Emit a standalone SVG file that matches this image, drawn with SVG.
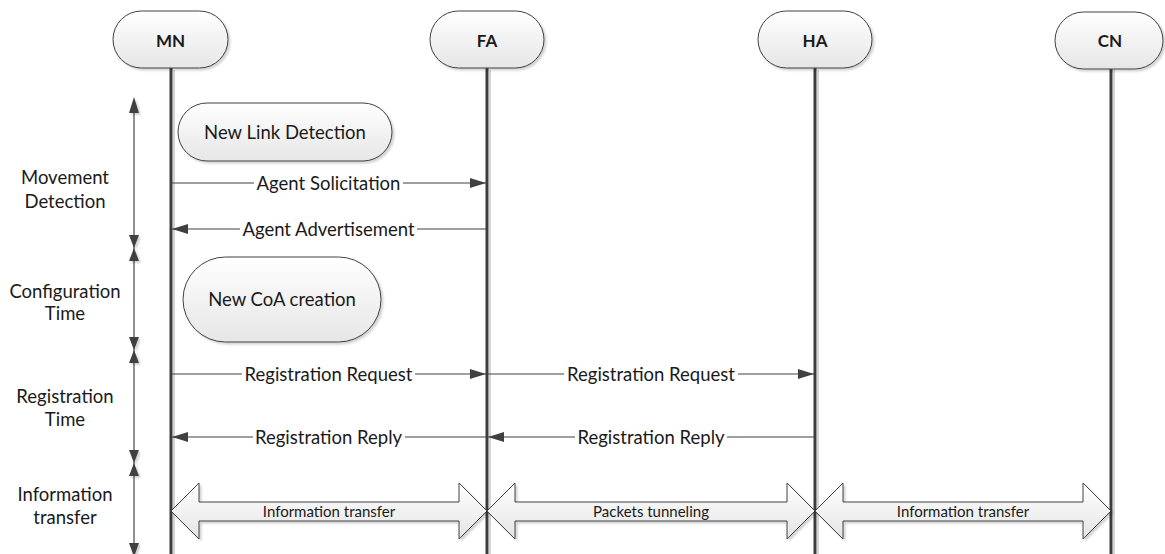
<svg xmlns="http://www.w3.org/2000/svg" width="1165" height="554" viewBox="0 0 1165 554">
  <defs>
    <linearGradient id="pillFill" x1="0" y1="0" x2="0" y2="1">
      <stop offset="0" stop-color="#ffffff"/>
      <stop offset="1" stop-color="#e6e6e6"/>
    </linearGradient>
    <linearGradient id="bandFill" x1="0" y1="0" x2="0" y2="1">
      <stop offset="0" stop-color="#ffffff"/>
      <stop offset="1" stop-color="#e4e4e4"/>
    </linearGradient>
    <filter id="shadow" x="-10%" y="-10%" width="130%" height="130%">
      <feDropShadow dx="2" dy="2" stdDeviation="1" flood-color="#000" flood-opacity="0.18"/>
    </filter>
    <marker id="arrow" viewBox="0 0 16 10" refX="16" refY="5" markerWidth="16" markerHeight="10" markerUnits="userSpaceOnUse" orient="auto">
      <path d="M0,0 L16,5 L0,10 Z" fill="#404040"/>
    </marker>
  </defs>
  <style>
    .pill { fill: url(#pillFill); stroke: #404040; stroke-width: 1; filter: url(#shadow); }
    .head { font-family: Lato, "Liberation Sans", sans-serif; font-weight: bold; font-size: 17px; fill: #1a1a1a; text-anchor: middle; dominant-baseline: central; }
    .life { stroke: #3c3c3c; stroke-width: 3; }
    .lifeShade { stroke: #d4d4d4; stroke-width: 2; }
    .msg { stroke: #404040; stroke-width: 1; fill: none; marker-end: url(#arrow); }
    .lbl { font-family: Lato, "Liberation Sans", sans-serif; font-size: 18.5px; fill: #1a1a1a; text-anchor: middle; dominant-baseline: central; }
    .lblbg { fill: #ffffff; }
    .phase { font-family: Lato, "Liberation Sans", sans-serif; font-size: 18.5px; fill: #1a1a1a; text-anchor: middle; }
    .axis { stroke: #555555; stroke-width: 1.3; }
    .tip { fill: #404040; filter: url(#shadow); }
    .band { fill: url(#bandFill); stroke: #404040; stroke-width: 1; filter: url(#shadow); }
    .small { font-family: Lato, "Liberation Sans", sans-serif; font-size: 15px; fill: #1a1a1a; text-anchor: middle; dominant-baseline: central; }
  </style>

  <!-- lifelines, each with a faint shade line on its right -->
  <g id="lifelines">
    <line class="lifeShade" x1="174" y1="70" x2="174" y2="560"/>
    <line class="lifeShade" x1="490" y1="70" x2="490" y2="560"/>
    <line class="lifeShade" x1="818" y1="70" x2="818" y2="560"/>
    <line class="lifeShade" x1="1114" y1="70" x2="1114" y2="560"/>
    <line class="life" x1="171" y1="68" x2="171" y2="560"/>
    <line class="life" x1="487" y1="68" x2="487" y2="560"/>
    <line class="life" x1="815" y1="68" x2="815" y2="560"/>
    <line class="life" x1="1111" y1="68" x2="1111" y2="560"/>
  </g>

  <!-- participants -->
  <g id="node-mn">
    <rect class="pill" x="113" y="11" width="115" height="57" rx="28.5"/>
    <text class="head" x="170.5" y="40">MN</text>
  </g>
  <g id="node-fa">
    <rect class="pill" x="430" y="11" width="114" height="57" rx="28.5"/>
    <text class="head" x="487" y="40">FA</text>
  </g>
  <g id="node-ha">
    <rect class="pill" x="758" y="11" width="114" height="57" rx="28.5"/>
    <text class="head" x="815" y="40">HA</text>
  </g>
  <g id="node-cn">
    <rect class="pill" x="1055" y="12" width="108" height="57" rx="28.5"/>
    <text class="head" x="1110" y="40">CN</text>
  </g>

  <!-- local activities on MN -->
  <g id="node-link-detection">
    <rect class="pill" x="178" y="103" width="214" height="58" rx="29"/>
    <text class="lbl" x="285" y="132">New Link Detection</text>
  </g>
  <g id="node-coa-creation">
    <rect class="pill" x="183" y="257" width="198" height="85" rx="42.5"/>
    <text class="lbl" x="282" y="299">New CoA creation</text>
  </g>

  <!-- phase axis -->
  <g id="phase-axis">
    <line class="axis" x1="134" y1="100" x2="134" y2="556"/>
    <polygon class="tip" points="134,97 129,113 139,113"/>
    <polygon class="tip" points="134,248 129,235 139,235"/>
    <polygon class="tip" points="134,248 129,261 139,261"/>
    <polygon class="tip" points="134,350 129,337 139,337"/>
    <polygon class="tip" points="134,350 129,363 139,363"/>
    <polygon class="tip" points="134,463 129,450 139,450"/>
    <polygon class="tip" points="134,463 129,476 139,476"/>
    <polygon class="tip" points="134,557 129,543 139,543"/>
  </g>
  <g id="phase-labels">
    <text class="phase" x="65" y="184">Movement</text>
    <text class="phase" x="65" y="208">Detection</text>
    <text class="phase" x="65" y="298">Configuration</text>
    <text class="phase" x="65" y="320">Time</text>
    <text class="phase" x="65" y="403">Registration</text>
    <text class="phase" x="65" y="426">Time</text>
    <text class="phase" x="65" y="501">Information</text>
    <text class="phase" x="65" y="524">transfer</text>
  </g>

  <!-- messages -->
  <g id="connectors">
    <line class="msg" x1="171" y1="183" x2="486" y2="183"/>
    <rect class="lblbg" x="254" y="173" width="149" height="20"/>
    <text class="lbl" x="328.5" y="183">Agent Solicitation</text>

    <line class="msg" x1="487" y1="229" x2="172" y2="229"/>
    <rect class="lblbg" x="240" y="219" width="177" height="20"/>
    <text class="lbl" x="328.5" y="229">Agent Advertisement</text>

    <line class="msg" x1="171" y1="374" x2="486" y2="374"/>
    <rect class="lblbg" x="242" y="364" width="173" height="20"/>
    <text class="lbl" x="328.5" y="374">Registration Request</text>

    <line class="msg" x1="487" y1="374" x2="814" y2="374"/>
    <rect class="lblbg" x="564" y="364" width="174" height="20"/>
    <text class="lbl" x="651" y="374">Registration Request</text>

    <line class="msg" x1="487" y1="437" x2="172" y2="437"/>
    <rect class="lblbg" x="253" y="427" width="152" height="20"/>
    <text class="lbl" x="328.5" y="437">Registration Reply</text>

    <line class="msg" x1="815" y1="437" x2="488" y2="437"/>
    <rect class="lblbg" x="575" y="427" width="152" height="20"/>
    <text class="lbl" x="651" y="437">Registration Reply</text>

    <!-- data transfer bands -->
    <path class="band" d="M171,511 L199,483 L199,502 L459,502 L459,483 L487,511 L459,539 L459,521 L199,521 L199,539 Z"/>
    <text class="small" x="329" y="511">Information transfer</text>

    <path class="band" d="M487,511 L515,483 L515,502 L787,502 L787,483 L815,511 L787,539 L787,521 L515,521 L515,539 Z"/>
    <text class="small" x="651" y="511">Packets tunneling</text>

    <path class="band" d="M815,511 L843,483 L843,502 L1083,502 L1083,483 L1111,511 L1083,539 L1083,521 L843,521 L843,539 Z"/>
    <text class="small" x="963" y="511">Information transfer</text>
  </g>
</svg>
